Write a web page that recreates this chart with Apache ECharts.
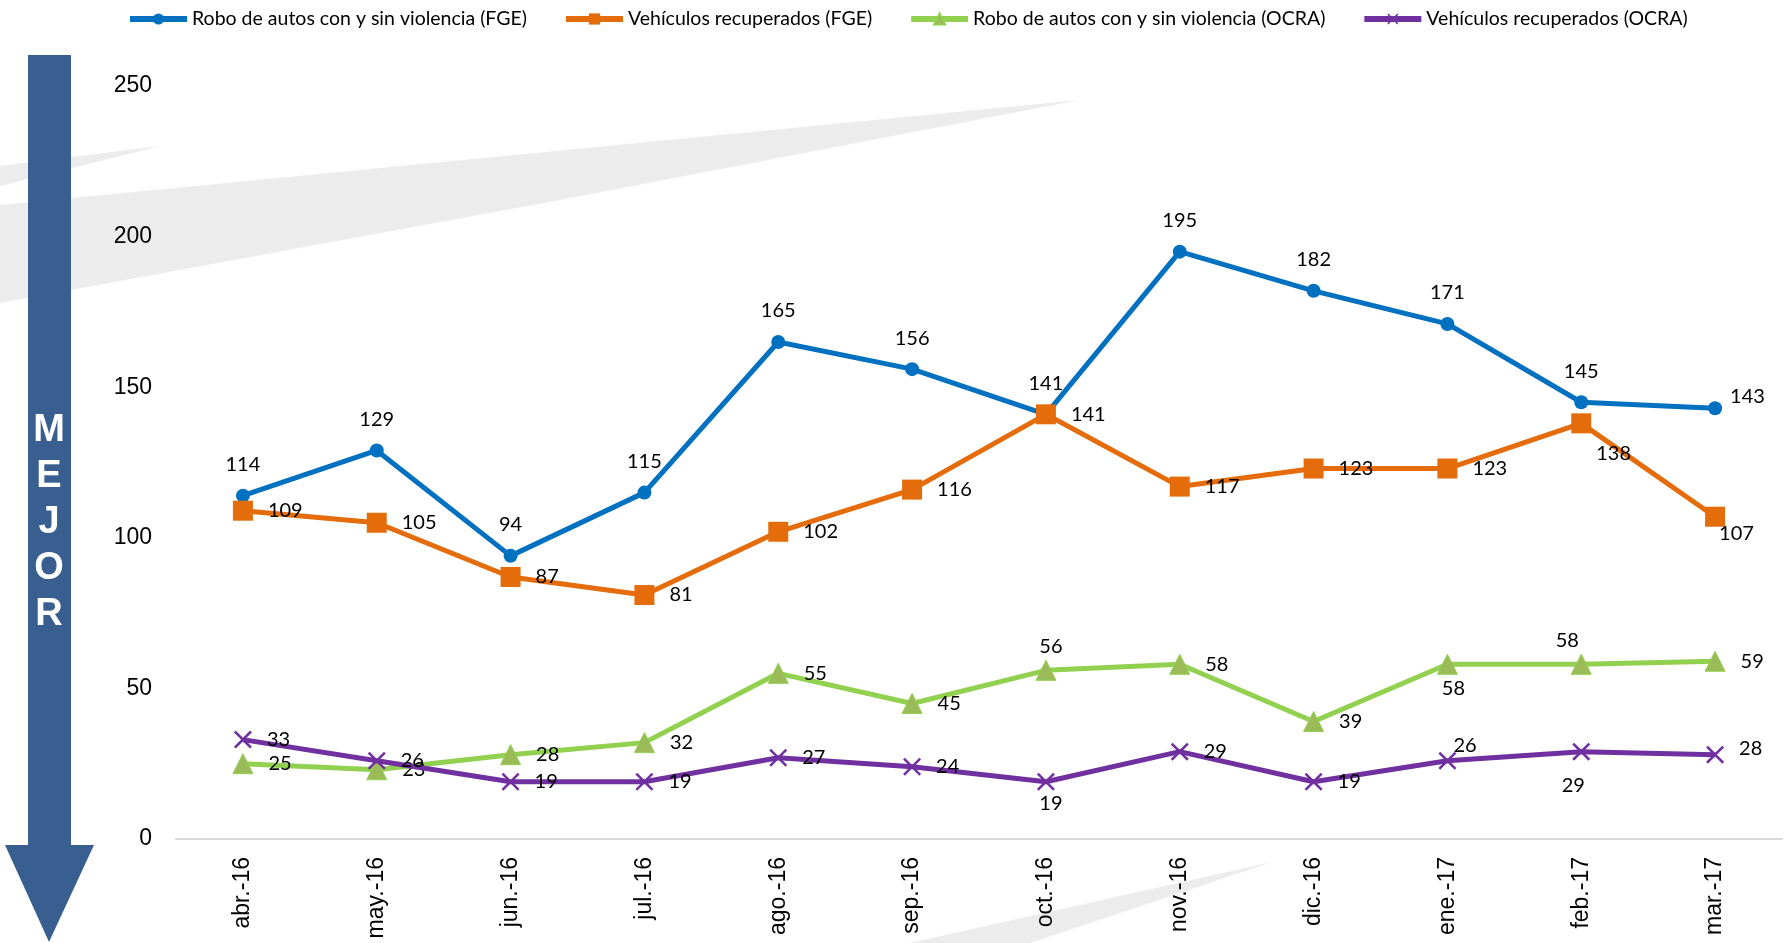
<!DOCTYPE html>
<html>
<head>
<meta charset="utf-8">
<title>Robo de autos y vehículos recuperados</title>
<script src="https://cdn.jsdelivr.net/npm/echarts@6/dist/echarts.min.js"></script>
<style>
  html, body { margin: 0; padding: 0; background: #fff; }
  #chart { width: 1790px; height: 943px; }
</style>
</head>
<body>
<div id="chart"></div>
<script>
// meses (eje x)
const months = ["abr.-16", "may.-16", "jun.-16", "jul.-16", "ago.-16", "sep.-16",
  "oct.-16", "nov.-16", "dic.-16", "ene.-17", "feb.-17", "mar.-17"];

// series
const roboFGE = [114, 129, 94, 115, 165, 156, 141, 195, 182, 171, 145, 143];
const recupFGE = [109, 105, 87, 81, 102, 116, 141, 117, 123, 123, 138, 107];
const roboOCRA = [25, 23, 28, 32, 55, 45, 56, 58, 39, 58, 58, 59];
const recupOCRA = [33, 26, 19, 19, 27, 24, 19, 29, 19, 26, 29, 28];

const seriesNames = [
  "Robo de autos con y sin violencia (FGE)",
  "Vehículos recuperados (FGE)",
  "Robo de autos con y sin violencia (OCRA)",
  "Vehículos recuperados (OCRA)"
];

const yTicks = { min: 0, max: 250, interval: 50 };

const LABEL_FONT = "Lato, 'Noto Sans', sans-serif";
const AXIS_FONT = "'Liberation Sans', Arial, sans-serif";

const crossPath = "path://M0,1L1,0L5,4L9,0L10,1L6,5L10,9L9,10L5,6L1,10L0,9L4,5Z";

// etiquetas que no van en la posición por defecto de su serie
function withLabels(values, overrides) {
  return values.map((v, i) => {
    const o = overrides[i];
    return o ? { value: v, label: o } : v;
  });
}

function baseLabel(position, distance) {
  return {
    show: true,
    position,
    distance,
    color: "#000",
    fontFamily: LABEL_FONT,
    fontSize: 20
  };
}

const chart = echarts.init(document.getElementById("chart"), null, { renderer: "canvas" });

const option = {
  animation: false,
  backgroundColor: "#fff",
  graphic: [
    // franjas grises del fondo
    { type: "polygon", z: -10, silent: true,
      shape: { points: [[0, 166], [160, 146], [0, 186]] },
      style: { fill: "#ececec" } },
    { type: "polygon", z: -10, silent: true,
      shape: { points: [[0, 205], [1080, 100], [560, 200], [0, 303]] },
      style: { fill: "#ececec" } },
    { type: "polygon", z: -10, silent: true,
      shape: { points: [[910, 943], [1272, 862], [1030, 943]] },
      style: { fill: "#ececec" } },
    // flecha "MEJOR"
    { type: "polygon", z: 1, silent: true,
      shape: { points: [[28, 55], [71, 55], [71, 845], [94, 845], [49, 942], [5, 845], [28, 845]] },
      style: { fill: "#385f8f" } },
    { type: "text", z: 2, silent: true, x: 49, y: 408,
      style: {
        text: "M\nE\nJ\nO\nR", fill: "#fff", font: "bold 38px 'Liberation Sans', Arial, sans-serif",
        align: "center", verticalAlign: "top", lineHeight: 46
      } }
  ],
  legend: {
    top: 4,
    left: 122,
    itemWidth: 57,
    itemHeight: 14,
    itemGap: 36,
    lineStyle: { width: 6 },
    textStyle: { color: "#000", fontFamily: LABEL_FONT, fontSize: 19.5 },
    data: seriesNames
  },
  grid: { left: 176, right: 8, top: 86, bottom: 104, containLabel: false },
  xAxis: {
    type: "category",
    data: months,
    boundaryGap: true,
    axisLine: { lineStyle: { color: "#d9d9d9", width: 2 } },
    axisTick: { show: false },
    axisLabel: {
      rotate: 90, margin: 18, color: "#000",
      fontFamily: AXIS_FONT, fontSize: 23
    }
  },
  yAxis: {
    type: "value",
    min: yTicks.min,
    max: yTicks.max,
    interval: yTicks.interval,
    axisLine: { show: false },
    axisTick: { show: false },
    splitLine: { show: false },
    axisLabel: { margin: 24, color: "#000", fontFamily: AXIS_FONT, fontSize: 23 }
  },
  series: [
    {
      name: seriesNames[0],
      type: "line",
      data: withLabels(roboFGE, {
        11: { position: "right", distance: 8, offset: [0, -12] }
      }),
      symbol: "circle",
      symbolSize: 14,
      lineStyle: { color: "#0070c0", width: 5 },
      itemStyle: { color: "#0070c0" },
      label: baseLabel("top", 14),
      z: 3
    },
    {
      name: seriesNames[1],
      type: "line",
      data: withLabels(recupFGE, {
        10: { position: "right", distance: 15, offset: [-10, 30] },
        11: { position: "right", distance: 15, offset: [-21, 17] }
      }),
      symbol: "rect",
      symbolSize: 20,
      lineStyle: { color: "#e46c0a", width: 5 },
      itemStyle: { color: "#e46c0a" },
      label: baseLabel("right", 15),
      z: 4
    },
    {
      name: seriesNames[2],
      type: "line",
      data: withLabels(roboOCRA, {
        6: { position: "top", distance: 3, offset: [5, 0] },
        9: { position: "bottom", distance: 4, offset: [6, 0] },
        10: { position: "top", distance: 3, offset: [-14, 0] }
      }),
      symbol: "triangle",
      symbolSize: 20,
      lineStyle: { color: "#92d050", width: 5 },
      itemStyle: { color: "#9bbb59", borderColor: "#92d050", borderWidth: 1 },
      label: baseLabel("right", 15),
      z: 3
    },
    {
      name: seriesNames[3],
      type: "line",
      data: withLabels(recupOCRA, {
        6: { position: "bottom", distance: 3, offset: [5, 0] },
        9: { position: "right", distance: 15, offset: [-18, -15] },
        10: { position: "bottom", distance: 15, offset: [-8, 0] },
        11: { position: "right", distance: 15, offset: [0, -6] }
      }),
      symbol: crossPath,
      symbolSize: 18,
      lineStyle: { color: "#7030a0", width: 5 },
      itemStyle: { color: "#7030a0" },
      label: baseLabel("right", 15),
      z: 4
    }
  ]
};

chart.setOption(option);
window.addEventListener("resize", () => chart.resize());
</script>
</body>
</html>
